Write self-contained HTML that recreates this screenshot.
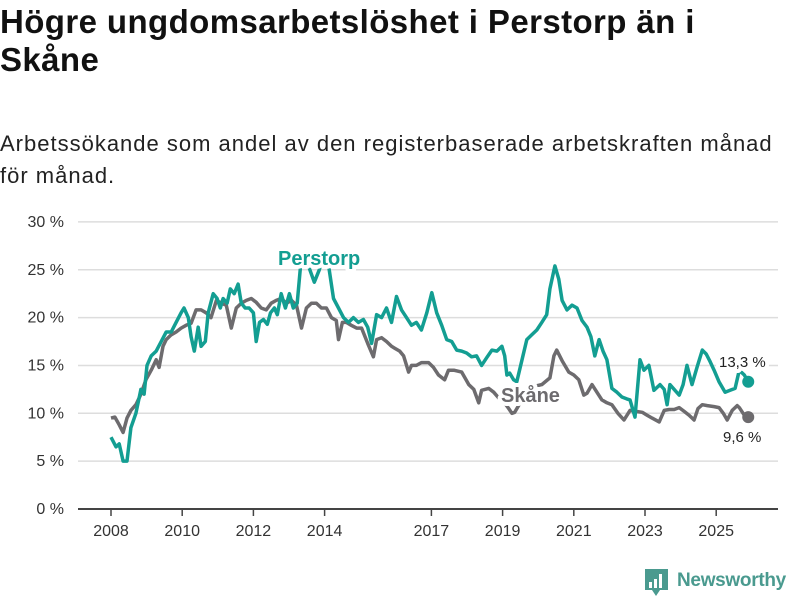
<!DOCTYPE html>
<html><head><meta charset="utf-8">
<style>
body{margin:0;background:#fff;width:800px;height:600px;overflow:hidden;font-family:"Liberation Sans","DejaVu Sans",sans-serif;}
h1{position:absolute;left:0;top:3px;margin:0;font-size:33px;line-height:38px;font-weight:bold;color:#111;width:800px;letter-spacing:0.4px;}
.sub{position:absolute;left:0;top:128px;margin:0;font-size:22px;line-height:32px;color:#222;width:800px;letter-spacing:1px;}
svg{position:absolute;left:0;top:0;}
</style></head><body>
<h1>Högre ungdomsarbetslöshet i Perstorp än i<br>Skåne</h1>
<p class="sub">Arbetssökande som andel av den registerbaserade arbetskraften månad<br>för månad.</p>
<svg id="chart" width="800" height="600"></svg>
<script>
const yTicks=[0,5,10,15,20,25,30];
const xTickYears=[2008,2010,2012,2014,2017,2019,2021,2023,2025];
const perstorpDates=[0,.14,.23,.34,.45,.56,.70,.84,.93,1.01,1.13,1.27,1.41,1.55,1.69,1.83,1.97,2.05,2.17,2.25,2.34,2.45,2.53,2.65,2.73,2.87,2.98,3.07,3.15,3.26,3.35,3.46,3.57,3.66,3.77,3.88,4.00,4.08,4.17,4.28,4.39,4.48,4.59,4.67,4.78,4.90,5.01,5.12,5.23,5.35,5.49,5.71,5.85,5.97,6.11,6.25,6.39,6.53,6.67,6.81,6.95,7.09,7.21,7.32,7.46,7.60,7.74,7.88,8.02,8.16,8.30,8.44,8.58,8.72,8.87,9.01,9.15,9.29,9.43,9.57,9.71,9.85,9.99,10.13,10.27,10.41,10.55,10.70,10.84,10.98,11.06,11.12,11.20,11.31,11.40,11.54,11.68,11.82,11.96,12.10,12.24,12.33,12.47,12.58,12.67,12.81,12.95,13.09,13.23,13.37,13.48,13.59,13.71,13.82,13.93,14.07,14.21,14.35,14.49,14.58,14.72,14.86,14.97,15.11,15.25,15.42,15.54,15.62,15.70,15.82,15.96,16.07,16.18,16.32,16.46,16.61,16.72,16.83,16.94,17.08,17.25,17.39,17.53,17.65,17.79,17.90];
const perstorpValues=[7.5,6.5,6.8,5,5,8.5,10,12.5,12,15,16,16.5,17.5,18.5,18.5,19.5,20.5,21,20,18,16.5,19,17,17.5,20.5,22.5,22,21,22,21.5,23,22.5,23.5,21.5,21,21,20.5,17.5,19.5,19.8,19.3,20.5,21,20.3,22.5,21,22.5,21,21.5,26.5,26,23.7,25,26.5,25.5,22,21,20,19.5,20,19.5,19.8,19,17.3,20.3,20,21,19.5,22.2,20.8,20,19.2,19.5,18.7,20.5,22.6,20.5,19.2,17.7,17.5,16.6,16.5,16.3,15.9,16,15,15.8,16.6,16.5,17,16,14,14.2,13.5,13.3,15.5,17.7,18.2,18.7,19.5,20.3,23,25.4,24,21.8,20.8,21.3,21,19.7,19,18,16,17.7,16.5,15.6,12.6,12.2,11.7,11.5,11.4,9.6,15.6,14.5,15,12.4,13,12.5,10.9,13,12.5,11.9,13,15,13,14.8,16.6,16.2,15.4,14.5,13.3,12.2,12.4,12.6,14.5,14,13.3];
const skaneDates=[0,.11,.23,.34,.45,.56,.70,.84,.98,1.13,1.27,1.35,1.46,1.55,1.69,1.83,1.97,2.11,2.25,2.39,2.53,2.67,2.81,2.96,3.10,3.24,3.38,3.52,3.66,3.80,3.94,4.08,4.22,4.36,4.50,4.64,4.78,4.93,5.07,5.21,5.35,5.49,5.63,5.77,5.91,6.05,6.19,6.33,6.39,6.50,6.61,6.75,6.90,7.04,7.21,7.37,7.46,7.60,7.74,7.88,7.97,8.11,8.22,8.36,8.44,8.58,8.72,8.92,9.06,9.20,9.37,9.48,9.63,9.85,10.05,10.19,10.33,10.41,10.61,10.75,10.89,11.03,11.17,11.26,11.34,11.48,11.68,11.88,12.10,12.33,12.44,12.52,12.67,12.86,13.00,13.14,13.28,13.37,13.51,13.65,13.79,13.93,14.07,14.24,14.41,14.58,14.75,14.92,15.06,15.20,15.40,15.54,15.68,15.82,15.96,16.10,16.24,16.38,16.49,16.61,16.75,16.94,17.08,17.20,17.31,17.45,17.59,17.65,17.79,17.90];
const skaneValues=[9.5,9.6,8.8,8,9.5,10.3,10.9,12,13.5,14.5,15.6,14.8,17,17.7,18.2,18.5,18.9,19.2,19.4,20.8,20.8,20.5,20,21.8,21.5,21.3,18.9,21,21.5,21.8,22,21.6,21,20.8,21.5,21.8,22,21.5,21.8,21.3,18.9,21,21.5,21.5,21,21,20,19.7,17.7,19.5,19.5,19.2,18.9,18.9,17.3,15.9,17.7,17.9,17.5,17,16.8,16.5,16,14.3,15,15,15.3,15.3,14.8,14,13.5,14.5,14.5,14.3,13,12.5,11.1,12.4,12.6,12.2,11.6,11.2,10.5,10,10.1,11,12,12.8,13,13.7,16,16.6,15.5,14.3,14,13.5,11.9,12.1,13,12.2,11.4,11.1,10.9,10,9.3,10.3,10.2,10.1,9.8,9.5,9.1,10.3,10.4,10.4,10.6,10.2,9.8,9.3,10.5,10.9,10.8,10.7,10.6,10,9.3,10.3,10.8,10.6,9.8,9.6];

const NS='http://www.w3.org/2000/svg';
const svg=document.getElementById('chart');
const X0=111,PXY=35.6,Y0=509,PXV=9.57;
const xs=t=>X0+(t-2008)*PXY;
const ys=v=>Y0-v*PXV;
function mk(tag,attrs,parent){const e=document.createElementNS(NS,tag);for(const k in attrs)e.setAttribute(k,attrs[k]);(parent||svg).appendChild(e);return e;}

yTicks.forEach(v=>{
  if(v>0){const g=mk('line',{x1:78,x2:778,y1:ys(v),y2:ys(v),stroke:'#ddd','stroke-width':1.5});
  
  }
  const t=mk('text',{x:64,y:ys(v)+5,'text-anchor':'end','font-size':16,fill:'#333'});
  t.textContent=v+' %';
  
  
});
const ax=mk('line',{x1:78,x2:778,y1:Y0,y2:Y0,stroke:'#444','stroke-width':2});


xTickYears.forEach(y=>{
  const tk=mk('line',{x1:xs(y),x2:xs(y),y1:Y0,y2:Y0+7,stroke:'#444','stroke-width':1.5});
  
  
  const t=mk('text',{x:xs(y),y:536,'text-anchor':'middle','font-size':16,fill:'#333'});
  t.textContent=y;
  
  
});
function line(dates,vals,color,name){
  const d=dates.map((t,i)=>(i?'L':'M')+xs(2008+t).toFixed(1)+','+ys(vals[i]).toFixed(1)).join('');
  const p=mk('path',{d:d,fill:'none',stroke:color,'stroke-width':3.5,'stroke-linejoin':'round'});
  
  
  const n=dates.length-1;
  const c=mk('circle',{cx:xs(2008+dates[n]),cy:ys(vals[n]),r:6,fill:color});
  
  
}
line(skaneDates,skaneValues,'#6d6b6e','skane-line');
line(perstorpDates,perstorpValues,'#139e92','perstorp-line');
function lbl(x,y,txt,color,size,bold,name,halo){
  const t=mk('text',{x:x,y:y,'font-size':size,fill:color,'font-weight':bold?'bold':'normal'});
  if(halo){t.setAttribute('stroke','#fff');t.setAttribute('stroke-width',8);t.setAttribute('paint-order','stroke');t.setAttribute('stroke-linejoin','round');}
  t.textContent=txt;
  
  
}
lbl(278,265,'Perstorp','#139e92',20,true,'perstorp-label',true);
lbl(501,402,'Skåne','#6d6b6e',20,true,'skane-label',true);
lbl(719,367,'13,3 %','#222',15,false,'perstorp-end-value',true);
lbl(723,442,'9,6 %','#222',15,false,'skane-end-value',true);
</script>
<div style="position:absolute;left:645px;top:569px;height:30px;">
<svg width="24" height="30" style="position:absolute;left:0;top:0"><path d="M0 0h23v21h-8l-4 6-4-6H0z" fill="#4a9a8f"/><rect x="4" y="13" width="3" height="6" fill="#fff"/><rect x="9" y="10" width="3" height="9" fill="#fff"/><rect x="14" y="5" width="3" height="14" fill="#fff"/></svg>
<span style="position:absolute;left:32px;top:1px;font-size:19px;font-weight:bold;color:#4a9a8f;white-space:nowrap;letter-spacing:-0.3px;">Newsworthy</span>
</div>
</body></html>
